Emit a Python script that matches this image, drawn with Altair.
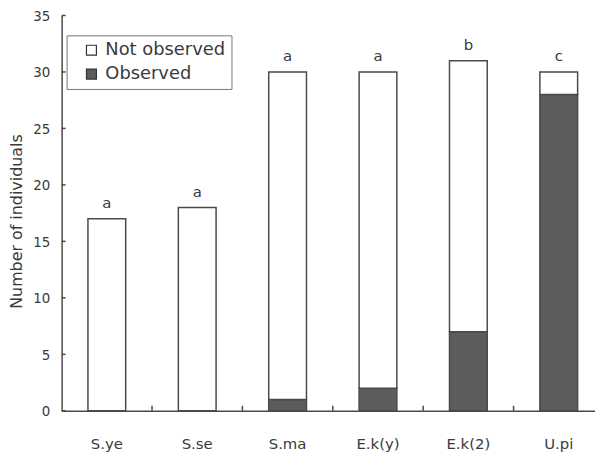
import altair as alt
import pandas as pd

categories = ["S.ye", "S.se", "S.ma", "E.k(y)", "E.k(2)", "U.pi"]
observed = [0, 0, 1, 2, 7, 28]
not_observed = [17, 18, 29, 28, 24, 2]
letters = ["a", "a", "a", "a", "b", "c"]
y_ticks = [0, 5, 10, 15, 20, 25, 30, 35]
status = ["Not observed", "Observed"]

rows = []
for c, o, n in zip(categories, observed, not_observed):
    if o > 0:
        rows.append({"cat": c, "status": "Observed", "ord": 0, "n": o})
    if n > 0:
        rows.append({"cat": c, "status": "Not observed", "ord": 1, "n": n})
bars_df = pd.DataFrame(rows)

tot_df = pd.DataFrame({
    "cat": categories,
    "total": [o + n for o, n in zip(observed, not_observed)],
    "letter": letters,
})
ytick_df = pd.DataFrame({"n": y_ticks})
xtick_df = pd.DataFrame({"cat": categories[1:]})

FONT = "DejaVu Sans"
TXT = "#3a3a3a"
LINE = "#4a4a4a"

xscale = alt.Scale(domain=categories, range=[0, 546], paddingInner=0, paddingOuter=0)
yscale = alt.Scale(domain=[0, 35], nice=False)

bars = alt.Chart(bars_df).mark_bar(size=38, stroke=LINE, strokeWidth=1.5).encode(
    x=alt.X("cat:N", scale=xscale, sort=categories,
            axis=alt.Axis(title=None, ticks=False, tickSize=0, labelPadding=26,
                          labelFont=FONT, labelFontSize=15, labelColor=TXT,
                          labelAngle=0, domainColor=LINE, domainWidth=1.5)),
    y=alt.Y("n:Q", scale=yscale, stack="zero",
            axis=alt.Axis(title="Number of individuals", values=y_ticks, ticks=False,
                          tickSize=0, labelPadding=12, grid=False,
                          labelFont="DejaVu Sans Condensed", labelFontSize=15,
                          labelColor=TXT, domainColor=LINE, domainWidth=1.5,
                          titleFont=FONT, titleFontSize=16, titleFontWeight="normal",
                          titleColor=TXT, titleX=-45, titleY=207,
                          titleBaseline="middle", titleAngle=-90)),
    color=alt.Color("status:N",
                    scale=alt.Scale(domain=status, range=["#ffffff", "#5c5c5c"]),
                    legend=alt.Legend(title=None, orient="none", legendX=5, legendY=20,
                                      symbolType="square", symbolSize=100,
                                      symbolStrokeColor="#333333", symbolStrokeWidth=1.2,
                                      symbolOffset=10, labelOffset=5,
                                      labelExpr="datum.label + '\u00a0\u00a0'",
                                      labelFont=FONT, labelFontSize=18, labelColor=TXT,
                                      padding=6, rowPadding=6,
                                      strokeColor="#777777", fillColor="#ffffff",
                                      cornerRadius=0)),
    order=alt.Order("ord:Q"),
)

text = alt.Chart(tot_df).mark_text(font=FONT, fontSize=15, color=TXT,
                                   baseline="bottom", dy=-8).encode(
    x=alt.X("cat:N", scale=xscale, sort=categories),
    y=alt.Y("total:Q", scale=yscale),
    text="letter:N",
)

yt = alt.Chart(ytick_df).mark_rule(color=LINE, strokeWidth=1.5).encode(
    y=alt.Y("n:Q", scale=yscale),
    x=alt.value(0),
    x2=alt.value(4),
)

xt = alt.Chart(xtick_df).mark_rule(color=LINE, strokeWidth=1.5).encode(
    x=alt.X("cat:N", scale=xscale, sort=categories, bandPosition=0),
    y=alt.value(398),
    y2=alt.value(393),
)

chart = alt.layer(bars, text, yt, xt).properties(
    width=537,
    height=398,
    padding={"left": 54, "top": 6, "right": 0, "bottom": 42},
    autosize=alt.AutoSizeParams(type="none"),
    background="white",
).configure_view(stroke=None)

chart.save("out.html", embed_options={"renderer": "svg", "actions": False})
